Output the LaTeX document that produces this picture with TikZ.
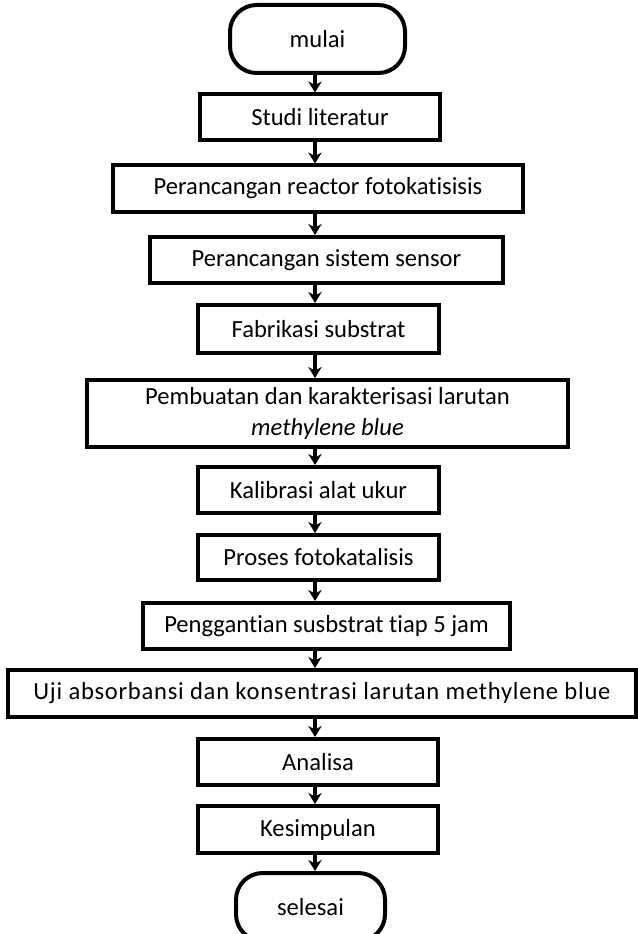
\documentclass[tikz,border=0pt]{standalone}
\usepackage{fontspec}
\setmainfont{Carlito}[Ligatures={NoCommon}]
\usetikzlibrary{positioning,arrows.meta}

\newcommand\flowfont{\fontsize{21}{26}\selectfont}

\tikzset{
  stepbox/.style={draw, line width=0.12cm, inner sep=0pt, minimum height=1.38cm, font=\flowfont},
  termbox/.style={draw, line width=0.12cm, rounded corners=0.8cm, inner sep=0pt, minimum height=2.04cm, font=\flowfont},
  flowarrow/.style={-{Stealth[length=0.33cm,width=0.4cm]}, line width=0.12cm}
}

\begin{document}
\begin{tikzpicture}[x=0.03cm, y=-0.03cm]
   \useasboundingbox (0,0) rectangle (637,934);
   \coordinate (axis) at (315,0);
   % start and end
   \node[termbox, minimum width=5.25cm] (mulai) at (317.5,39) {mulai};
   \node[termbox, minimum width=4.47cm] (selesai) at (310.5,907) {selesai};
   % the steps
   \node[stepbox, minimum width=7.2cm] (studi) at (320,117.5) {Studi literatur};
   \node[stepbox, minimum width=12.3cm] (reactor) at (318,188.5) {Perancangan reactor fotokatisisis};
   \node[stepbox, minimum width=10.59cm] (sensor) at (326.5,260) {Perancangan sistem sensor};
   \node[stepbox, minimum width=7.23cm, minimum height=1.44cm] (fabrikasi) at (318.5,329) {Fabrikasi substrat};
   \node[stepbox, minimum width=14.43cm, minimum height=2.01cm, align=center] (larutan) at (327.5,413.5)
     {Pembuatan dan karakterisasi larutan\\ \textit{methylene blue}};
   \node[stepbox, minimum width=7.23cm] (kalibrasi) at (318.5,490) {Kalibrasi alat ukur};
   \node[stepbox, minimum width=7.23cm, minimum height=1.35cm] (proses) at (318.5,557.5) {Proses fotokatalisis};
   \node[stepbox, minimum width=11.01cm] (ganti) at (326.5,626) {Penggantian susbstrat tiap 5 jam};
   \node[stepbox, minimum width=18.84cm, minimum height=1.41cm, font=\flowfont\addfontfeature{LetterSpace=3}] (uji) at (322,693.5)
     {Uji absorbansi dan konsentrasi larutan methylene blue};
   \node[stepbox, minimum width=7.2cm] (analisa) at (318,762) {Analisa};
   \node[stepbox, minimum width=7.2cm, minimum height=1.41cm] (simpul) at (318,829.5) {Kesimpulan};
   % arrows down the axis
   \foreach \a/\b in {mulai/studi, studi/reactor, reactor/sensor, sensor/fabrikasi, fabrikasi/larutan,
                      larutan/kalibrasi, kalibrasi/proses, proses/ganti, ganti/uji, uji/analisa,
                      analisa/simpul, simpul/selesai}
     \draw[flowarrow] (\a.south -| axis) -- (\b.north -| axis);
\end{tikzpicture}
\end{document}
